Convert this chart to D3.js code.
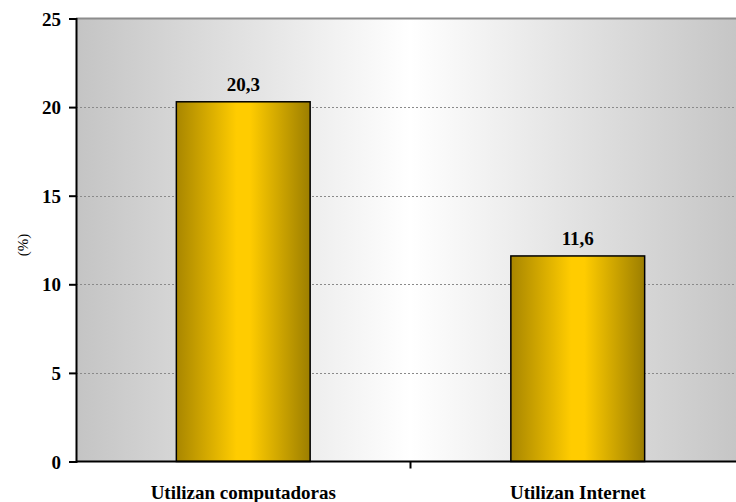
<!DOCTYPE html>
<html><head><meta charset="utf-8">
<script src="https://cdn.jsdelivr.net/npm/d3@7"></script>
<style>body{margin:0;background:#fff}svg{display:block}svg text{font-family:"Liberation Serif","Times New Roman",serif}</style>
</head><body>
<script>
const categories = ["Utilizan computadoras", "Utilizan Internet"];
const values = [20.3, 11.6];
const valueLabels = ["20,3", "11,6"];
const yTicks = [0, 5, 10, 15, 20, 25];

const W = 736, H = 502;
const svg = d3.select("body").append("svg").attr("width", W).attr("height", H);
const x0 = 76, x1 = 745, yTop = 18.5, yBot = 461.5;
const x = d3.scaleBand().domain(categories).range([x0, x1]).paddingInner(0.6).paddingOuter(0.3);
const y = d3.scaleLinear().domain([0, 25]).range([yBot, yTop]);

const defs = svg.append("defs");
const bg = defs.append("linearGradient").attr("id", "bg").attr("x1", "0").attr("x2", "1").attr("y1", "0").attr("y2", "0");
bg.append("stop").attr("offset", "0").attr("stop-color", "#c4c4c4");
bg.append("stop").attr("offset", "0.5").attr("stop-color", "#ffffff");
bg.append("stop").attr("offset", "1").attr("stop-color", "#c4c4c4");
const bar = defs.append("linearGradient").attr("id", "bar").attr("x1", "0").attr("x2", "1").attr("y1", "0").attr("y2", "0");
bar.append("stop").attr("offset", "0").attr("stop-color", "#a88600");
bar.append("stop").attr("offset", "0.45").attr("stop-color", "#ffcc00");
bar.append("stop").attr("offset", "0.55").attr("stop-color", "#ffcc00");
bar.append("stop").attr("offset", "1").attr("stop-color", "#9c7e00");

svg.append("rect").attr("x", x0).attr("y", yTop).attr("width", x1 - x0).attr("height", yBot - yTop).attr("fill", "url(#bg)");

// gridlines
svg.append("g").selectAll("line").data(yTicks.filter(d => d > 0 && d < 25)).join("line")
  .attr("x1", x0).attr("x2", W).attr("y1", d => Math.round(y(d)) + 0.5).attr("y2", d => Math.round(y(d)) + 0.5)
  .attr("stroke", "#8a8a8a").attr("stroke-width", 1).attr("stroke-dasharray", "2,2");
svg.append("line").attr("x1", x0).attr("x2", W).attr("y1", y(25)).attr("y2", y(25))
  .attr("stroke", "#8c8c8c").attr("stroke-width", 2);

// bars
svg.append("g").selectAll("rect").data(values).join("rect")
  .attr("x", (d, i) => x(categories[i])).attr("width", x.bandwidth())
  .attr("y", d => y(d)).attr("height", d => y(0) - y(d))
  .attr("fill", "url(#bar)").attr("stroke", "#000").attr("stroke-width", 1.5);

// value labels
svg.append("g").selectAll("text").data(values).join("text")
  .attr("x", (d, i) => x(categories[i]) + x.bandwidth() / 2).attr("y", d => y(d) - 11)
  .attr("text-anchor", "middle")
  .attr("font-weight", "bold").attr("font-size", "19px").text((d, i) => valueLabels[i]);

// y axis
const yAxis = svg.append("g").attr("transform", `translate(${x0},0)`)
  .call(d3.axisLeft(y).tickValues(yTicks).tickSize(7).tickPadding(8).tickFormat(d3.format("d")));
yAxis.attr("font-family", null);
yAxis.select(".domain").attr("stroke", "#000").attr("stroke-width", 2);
yAxis.selectAll(".tick line").attr("stroke", "#000").attr("stroke-width", 2);
yAxis.selectAll(".tick text")
  .attr("font-weight", "bold").attr("font-size", "19px").attr("fill", "#000").attr("dy", "0.35em");

// x axis
const xAxis = svg.append("g").attr("transform", `translate(0,${yBot})`);
xAxis.append("line").attr("x1", x0).attr("x2", W).attr("y1", 0).attr("y2", 0).attr("stroke", "#000").attr("stroke-width", 2);
const boundaries = [x(categories[0]) + x.bandwidth() / 2 + x.step() / 2];
xAxis.selectAll(".tk").data(boundaries).join("line").attr("class", "tk")
  .attr("x1", d => d).attr("x2", d => d).attr("y1", 0).attr("y2", 7).attr("stroke", "#000").attr("stroke-width", 2);
xAxis.selectAll("text").data(categories).join("text")
  .attr("x", d => x(d) + x.bandwidth() / 2).attr("y", 37)
  .attr("text-anchor", "middle")
  .attr("font-weight", "bold").attr("font-size", "19px").text(d => d);

// y label
svg.append("text").attr("transform", `translate(28,245) rotate(-90)`)
  .attr("text-anchor", "middle")
  .attr("font-size", "15px").text("(%)");
</script>
</body></html>
